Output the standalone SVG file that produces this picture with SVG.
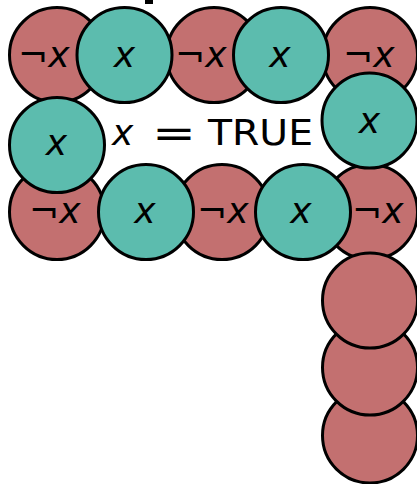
<svg xmlns="http://www.w3.org/2000/svg" width="417" height="484" viewBox="0 0 417 484">
<style>
.r{fill:#c37070;stroke:#000;stroke-width:3}
.t{fill:#5cbcae;stroke:#000;stroke-width:3}
text{font-family:"DejaVu Sans","Liberation Sans",sans-serif;font-size:36px;fill:#000}
.i{font-style:italic}
.m{text-anchor:middle}
</style>
<rect x="145" y="0" width="8" height="4" fill="#000"/>
<g id="connectors"></g>
<g id="red1"><circle class="r" cx="57" cy="55" r="47.5"/><text x="18" y="67">¬<tspan class="i">x</tspan></text></g>
<g id="red3"><circle class="r" cx="214" cy="55" r="47.5"/><text x="175" y="67">¬<tspan class="i">x</tspan></text></g>
<g id="red5"><circle class="r" cx="370" cy="55" r="47.5"/><text x="343" y="67">¬<tspan class="i">x</tspan></text></g>
<g id="red8"><circle class="r" cx="57" cy="212" r="47.5"/><text x="29" y="223">¬<tspan class="i">x</tspan></text></g>
<g id="red10"><circle class="r" cx="222" cy="212" r="47.5"/><text x="197" y="223">¬<tspan class="i">x</tspan></text></g>
<g id="red12"><circle class="r" cx="370" cy="212" r="47.5"/><text x="352" y="223">¬<tspan class="i">x</tspan></text></g>
<g id="red15"><circle class="r" cx="370" cy="435.5" r="47.5"/></g>
<g id="red14"><circle class="r" cx="370" cy="367.5" r="47.5"/></g>
<g id="red13"><circle class="r" cx="370" cy="300.5" r="47.5"/></g>
<g id="teal2"><circle class="t" cx="124.5" cy="55" r="47.5"/><text class="i m" x="124.5" y="67">x</text></g>
<g id="teal4"><circle class="t" cx="281" cy="55" r="47.5"/><text class="i m" x="280" y="67">x</text></g>
<g id="teal6"><circle class="t" cx="369.5" cy="120.5" r="47.5"/><text class="i m" x="369.5" y="133">x</text></g>
<g id="teal7"><circle class="t" cx="57" cy="145" r="47.5"/><text class="i m" x="56.5" y="155">x</text></g>
<g id="teal9"><circle class="t" cx="146" cy="212" r="47.5"/><text class="i m" x="145" y="223">x</text></g>
<g id="teal11"><circle class="t" cx="303" cy="212" r="47.5"/><text class="i m" x="301" y="223">x</text></g>
<g id="label">
<text class="i" x="112" y="145">x</text>
<text x="152" y="147" style="font-size:40px" textLength="44" lengthAdjust="spacingAndGlyphs">=</text>
<text x="208" y="145" textLength="105" lengthAdjust="spacingAndGlyphs">TRUE</text>
</g>
</svg>
